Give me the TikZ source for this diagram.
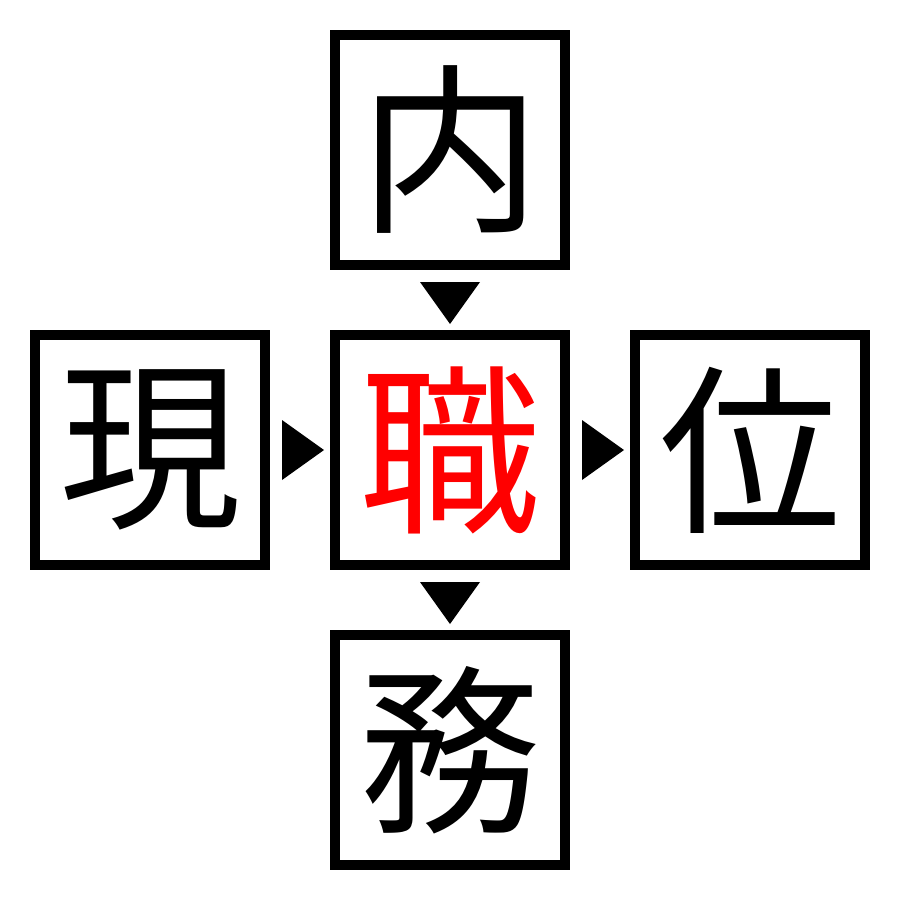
\documentclass[tikz,border=0pt]{standalone}
\usepackage{fontspec}
\newfontfamily\cjk{Noto Sans CJK JP}
\begin{document}
\begin{tikzpicture}[x=1pt,y=-1pt,
  kbox/.style={draw=black,line width=10pt,minimum size=230pt,inner sep=0pt,font=\cjk\fontsize{182}{182}\selectfont},
  tri/.style={fill=black}]
\useasboundingbox (0,0) rectangle (900,900);
\node[kbox] (top) at (450,150) {内};
\node[kbox] (left) at (150,450) {現};
\node[kbox,text=red] (mid) at (450,450) {職};
\node[kbox] (right) at (750,450) {位};
\node[kbox] (bot) at (450,750) {務};
% triangles between the boxes
\fill[tri] (420,282) -- (480,282) -- (450,324) -- cycle;
\fill[tri] (420,582) -- (480,582) -- (450,624) -- cycle;
\fill[tri] (282,420) -- (282,480) -- (324,450) -- cycle;
\fill[tri] (582,420) -- (582,480) -- (624,450) -- cycle;
\end{tikzpicture}
\end{document}
